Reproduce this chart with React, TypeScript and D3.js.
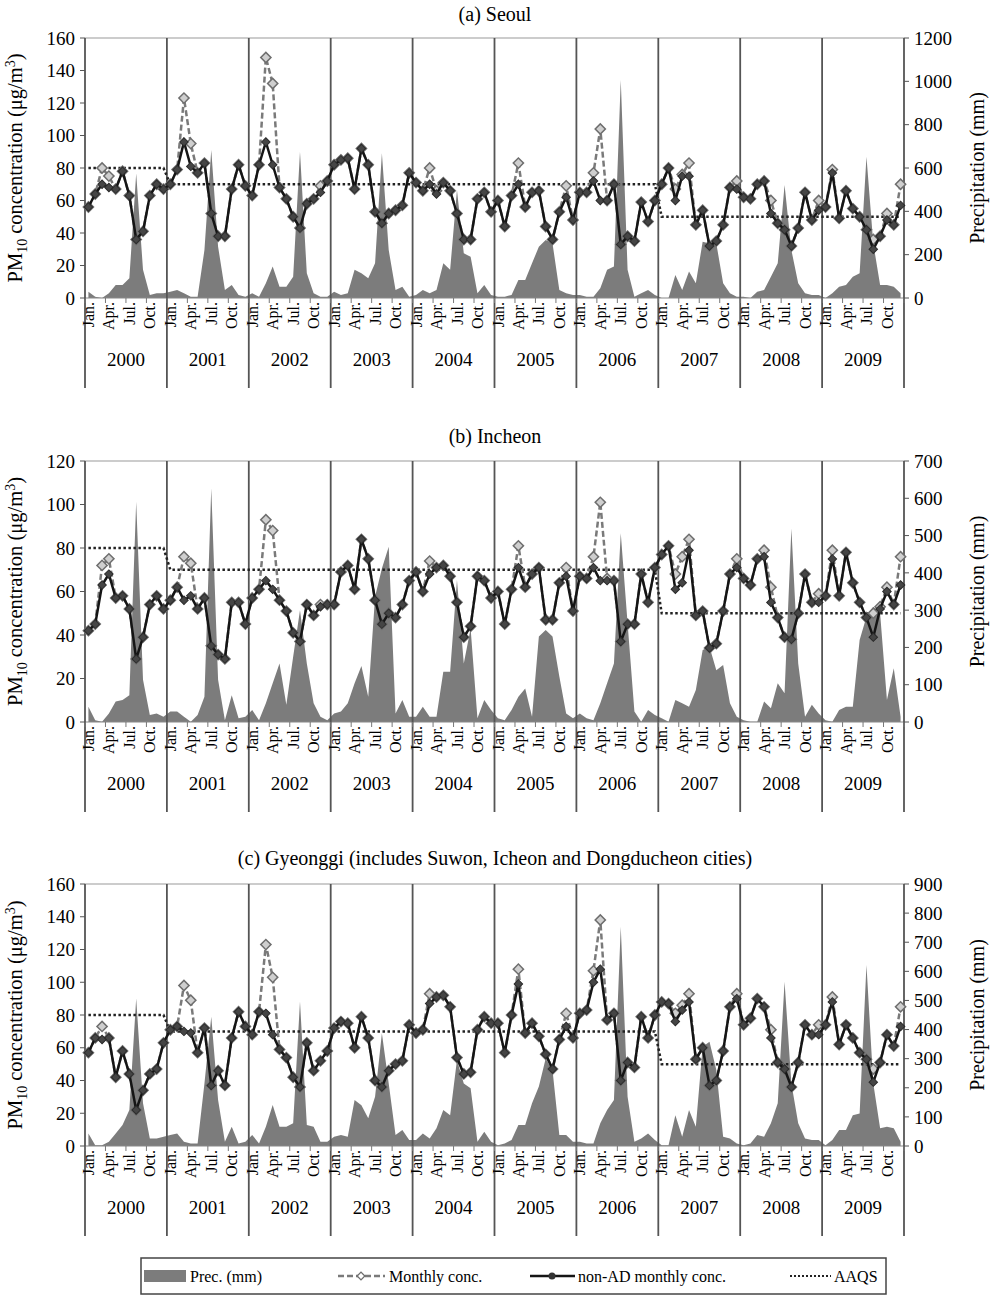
import * as d3 from "d3";

const years = ["2000", "2001", "2002", "2003", "2004", "2005", "2006", "2007", "2008", "2009"];
const monthLabels = ["Jan.", "Apr.", "Jul.", "Oct."];
const aaqsByYear = [80, 70, 70, 70, 70, 70, 70, 50, 50, 50];

// (a) Seoul
const seoulPrec = [
  29, 6, 0, 22, 60, 60, 91, 575, 130, 14, 22, 22,
  29, 37, 22, 6, 6, 221, 683, 237, 37, 60, 14, 6,
  22, 6, 68, 145, 52, 52, 98, 675, 114, 22, 6, 6,
  29, 14, 22, 130, 114, 91, 160, 668, 221, 37, 52, 6,
  14, 37, 22, 37, 160, 130, 498, 206, 190, 22, 60, 14,
  6, 6, 14, 83, 83, 160, 237, 268, 252, 37, 22, 14,
  14, 6, 6, 45, 130, 145, 1006, 130, 6, 22, 37, 14,
  0, 0, 106, 37, 122, 68, 260, 252, 252, 68, 22, 6,
  6, 0, 29, 37, 98, 160, 521, 221, 68, 22, 14, 14,
  0, 22, 52, 60, 98, 114, 652, 252, 60, 60, 52, 22,
];
const seoulNonAD = [
  56, 64, 70, 68, 67, 78, 63, 36, 41, 63, 70, 67,
  70, 79, 96, 81, 77, 83, 52, 38, 38, 67, 82, 69,
  63, 82, 96, 82, 68, 61, 50, 43, 58, 61, 65, 72,
  82, 85, 86, 67, 92, 82, 53, 46, 52, 54, 57, 77,
  71, 66, 70, 64, 71, 66, 52, 36, 36, 61, 65, 53,
  60, 44, 63, 70, 56, 65, 66, 44, 36, 53, 62, 48,
  65, 65, 72, 60, 60, 70, 33, 38, 35, 59, 47, 60,
  70, 80, 60, 75, 75, 45, 54, 32, 35, 45, 68, 67,
  62, 61, 70, 72, 52, 46, 42, 32, 43, 65, 48, 54,
  56, 77, 49, 66, 55, 50, 42, 30, 38, 48, 45, 57,
];
const seoulMonthly = [
  56, 64, 80, 75, 67, 78, 63, 36, 41, 63, 70, 67,
  70, 79, 123, 95, 77, 83, 52, 38, 38, 67, 82, 69,
  63, 82, 148, 132, 68, 61, 50, 43, 58, 61, 69, 72,
  82, 85, 86, 67, 92, 82, 53, 46, 52, 54, 57, 77,
  71, 66, 80, 66, 71, 66, 52, 36, 36, 61, 65, 53,
  60, 44, 63, 83, 56, 65, 66, 44, 36, 53, 69, 48,
  65, 65, 77, 104, 60, 70, 33, 38, 35, 59, 47, 60,
  70, 80, 67, 76, 83, 45, 54, 32, 35, 45, 68, 72,
  62, 61, 70, 72, 60, 46, 42, 32, 43, 65, 48, 60,
  56, 79, 49, 66, 55, 50, 42, 36, 38, 52, 45, 70,
];

// (b) Incheon
const incheonPrec = [
  41, 5, 1, 23, 55, 59, 72, 591, 113, 19, 23, 14,
  28, 28, 14, 1, 19, 68, 627, 113, 5, 72, 10, 14,
  32, 5, 50, 104, 157, 46, 175, 300, 157, 50, 14, 5,
  23, 28, 50, 104, 150, 68, 336, 412, 470, 23, 59, 14,
  14, 41, 14, 14, 135, 135, 381, 157, 251, 10, 59, 32,
  10, 5, 32, 68, 90, 14, 229, 247, 229, 122, 23, 10,
  23, 10, 5, 50, 104, 157, 506, 265, 28, 1, 32, 19,
  10, 1, 59, 50, 41, 86, 193, 202, 139, 153, 50, 14,
  5, 1, 1, 55, 37, 104, 77, 519, 157, 14, 46, 23,
  5, 1, 32, 41, 41, 220, 282, 309, 291, 59, 144, 14,
];
const incheonNonAD = [
  42, 45, 63, 68, 57, 58, 52, 29, 39, 54, 58, 52,
  56, 62, 56, 58, 52, 57, 35, 31, 29, 55, 55, 45,
  57, 61, 65, 61, 56, 51, 41, 37, 54, 49, 53, 54,
  54, 69, 72, 61, 84, 75, 56, 45, 50, 48, 54, 65,
  69, 60, 68, 71, 72, 67, 55, 39, 44, 67, 65, 57,
  60, 45, 61, 71, 62, 68, 71, 47, 47, 64, 67, 51,
  67, 66, 71, 65, 65, 65, 37, 45, 45, 68, 55, 71,
  77, 81, 61, 64, 79, 49, 51, 34, 36, 51, 68, 71,
  66, 63, 75, 76, 55, 48, 39, 38, 50, 68, 55, 55,
  58, 75, 58, 78, 64, 55, 48, 39, 52, 60, 54, 63,
];
const incheonMonthly = [
  42, 45, 72, 75, 57, 58, 52, 29, 39, 54, 58, 52,
  56, 62, 76, 73, 52, 57, 35, 31, 29, 55, 55, 45,
  57, 61, 93, 88, 56, 51, 41, 37, 54, 49, 54, 54,
  54, 69, 72, 61, 84, 75, 56, 45, 50, 48, 54, 65,
  69, 60, 74, 71, 72, 67, 55, 39, 44, 67, 65, 57,
  60, 45, 61, 81, 62, 68, 71, 47, 47, 64, 71, 51,
  67, 66, 76, 101, 66, 65, 37, 45, 45, 68, 55, 71,
  77, 81, 68, 76, 84, 49, 51, 34, 36, 51, 68, 75,
  66, 63, 75, 79, 62, 48, 39, 38, 50, 68, 55, 59,
  58, 79, 58, 78, 64, 55, 48, 50, 53, 62, 54, 76,
];

// (c) Gyeonggi
const gyeonggiPrec = [
  43, 3, 3, 15, 43, 72, 124, 507, 147, 26, 26, 32,
  38, 43, 15, 9, 9, 215, 444, 158, 15, 66, 9, 15,
  38, 9, 66, 141, 66, 66, 78, 496, 72, 66, 15, 15,
  32, 38, 32, 158, 140, 95, 169, 387, 215, 38, 55, 21,
  21, 43, 26, 61, 124, 106, 295, 215, 198, 15, 49, 15,
  3, 9, 21, 72, 72, 147, 204, 301, 261, 38, 38, 15,
  15, 9, 9, 78, 124, 158, 753, 169, 15, 26, 43, 21,
  3, 3, 106, 32, 124, 66, 341, 358, 261, 32, 26, 9,
  3, 9, 38, 32, 78, 147, 564, 215, 78, 26, 21, 21,
  3, 21, 55, 55, 106, 112, 622, 215, 61, 66, 61, 15,
];
const gyeonggiNonAD = [
  57, 66, 65, 66, 42, 58, 44, 22, 34, 44, 47, 63,
  71, 73, 70, 69, 57, 72, 37, 46, 37, 66, 82, 73,
  68, 82, 81, 68, 59, 54, 42, 36, 63, 46, 52, 58,
  72, 76, 75, 60, 79, 66, 40, 36, 46, 50, 52, 74,
  69, 71, 87, 91, 92, 85, 54, 44, 45, 71, 79, 75,
  75, 57, 80, 99, 69, 75, 67, 56, 47, 65, 73, 66,
  81, 83, 100, 108, 77, 81, 40, 51, 48, 79, 66, 80,
  88, 87, 76, 83, 88, 53, 60, 37, 40, 58, 85, 90,
  74, 78, 90, 85, 66, 51, 47, 36, 51, 74, 68, 68,
  74, 88, 62, 74, 66, 57, 53, 39, 51, 68, 61, 73,
];
const gyeonggiMonthly = [
  57, 66, 73, 66, 42, 58, 44, 22, 34, 44, 47, 63,
  71, 73, 98, 89, 57, 72, 37, 46, 37, 66, 82, 73,
  68, 82, 123, 103, 59, 54, 42, 36, 63, 46, 52, 58,
  72, 76, 75, 60, 79, 66, 40, 36, 46, 50, 52, 74,
  69, 71, 93, 91, 92, 85, 54, 44, 45, 71, 79, 75,
  75, 57, 80, 108, 69, 75, 67, 56, 47, 65, 81, 66,
  81, 83, 107, 138, 77, 81, 40, 51, 48, 79, 66, 80,
  88, 87, 81, 86, 93, 53, 60, 37, 40, 58, 85, 93,
  74, 78, 90, 85, 71, 51, 47, 36, 51, 74, 68, 74,
  74, 91, 62, 74, 66, 57, 53, 47, 51, 68, 61, 85,
];

const panels = [
  { title: "(a) Seoul", titleY: 21, top: 38, bottom: 298, yMax: 160, rMax: 1200, rStep: 200,
    prec: seoulPrec, monthly: seoulMonthly, nonAD: seoulNonAD },
  { title: "(b) Incheon", titleY: 443, top: 461, bottom: 722, yMax: 120, rMax: 700, rStep: 100,
    prec: incheonPrec, monthly: incheonMonthly, nonAD: incheonNonAD },
  { title: "(c) Gyeonggi (includes Suwon, Icheon and Dongducheon cities)", titleY: 865, top: 884, bottom: 1146,
    yMax: 160, rMax: 900, rStep: 100, prec: gyeonggiPrec, monthly: gyeonggiMonthly, nonAD: gyeonggiNonAD },
];

const L = 85;
const R = 904;
const FONT = "'Liberation Serif', 'DejaVu Serif', 'Times New Roman', serif";
const PREC_FILL = "#7c7c7c";

const diamond = d3.symbol(d3.symbolSquare, 52)();
const smallDiamond = d3.symbol(d3.symbolSquare, 36)();

function Panel({ p }) {
  const n = p.nonAD.length;
  const x = d3.scaleBand().domain(d3.range(n)).range([L, R]);
  const bw = x.bandwidth();
  const cx = (i) => x(i) + bw / 2;
  const y = d3.scaleLinear().domain([0, p.yMax]).range([p.bottom, p.top]);
  const yr = d3.scaleLinear().domain([0, p.rMax]).range([p.bottom, p.top]);

  const area = d3.area().x((d, i) => cx(i)).y0(p.bottom).y1((d) => yr(d));
  const line = d3.line().x((d, i) => cx(i)).y((d) => y(d));
  const aaqs = d3.range(n).map((i) => aaqsByYear[Math.floor(i / 12)]);

  const leftTicks = d3.range(0, p.yMax + 1, 20);
  const rightTicks = d3.range(0, p.rMax + 1, p.rStep);
  const lineEnd = p.bottom + 90;
  const midY = (p.top + p.bottom) / 2;

  return (
    <g>
      <text x={495} y={p.titleY} textAnchor="middle" fontSize={20}>{p.title}</text>

      <path d={area(p.prec)} fill={PREC_FILL} />

      <line x1={L} x2={R} y1={p.top} y2={p.top} stroke="#bbb" strokeWidth={1.5} />
      <line x1={L} x2={R} y1={p.bottom} y2={p.bottom} stroke="#888" strokeWidth={1.2} />

      {d3.range(years.length + 1).map((k) => (
        <line key={"d" + k} x1={L + k * 12 * bw} x2={L + k * 12 * bw} y1={p.top} y2={lineEnd}
          stroke="#555" strokeWidth={1.8} />
      ))}

      {d3.range(0, n + 1, 3).map((k) => (
        <line key={"mt" + k} x1={L + k * bw} x2={L + k * bw} y1={p.bottom} y2={p.bottom + 5}
          stroke="#777" strokeWidth={1} />
      ))}

      {leftTicks.map((t) => (
        <g key={"l" + t}>
          <line x1={L - 5} x2={L} y1={y(t)} y2={y(t)} stroke="#555" />
          <text x={L - 10} y={y(t)} dy="0.35em" textAnchor="end" fontSize={19}>{t}</text>
        </g>
      ))}
      {rightTicks.map((t) => (
        <g key={"r" + t}>
          <line x1={R} x2={R + 5} y1={yr(t)} y2={yr(t)} stroke="#555" />
          <text x={R + 10} y={yr(t)} dy="0.35em" textAnchor="start" fontSize={19}>{t}</text>
        </g>
      ))}

      <text transform={`translate(22,${midY}) rotate(-90)`} textAnchor="middle" fontSize={20.5}>
        PM<tspan fontSize={14} dy={5}>10</tspan>
        <tspan dy={-5}> concentration (μg/m</tspan>
        <tspan fontSize={14} dy={-7}>3</tspan>
        <tspan dy={7}>)</tspan>
      </text>
      <text transform={`translate(984,${midY}) rotate(-90)`} textAnchor="middle" fontSize={20}>
        Precipitation (mm)
      </text>

      {d3.range(n).filter((i) => i % 3 === 0).map((i) => (
        <text key={"ml" + i} transform={`translate(${cx(i)},${p.bottom + 4}) rotate(-90)`}
          textAnchor="end" dy="0.35em" fontSize={16}>
          {monthLabels[(i % 12) / 3]}
        </text>
      ))}
      {years.map((yy, k) => (
        <text key={yy} x={L + (k + 0.5) * 12 * bw} y={p.bottom + 68} textAnchor="middle" fontSize={19}>{yy}</text>
      ))}

      <path d={line(aaqs)} fill="none" stroke="#222" strokeWidth={2.5} strokeDasharray="2.5,2.5" />

      <path d={line(p.monthly)} fill="none" stroke="#7a7a7a" strokeWidth={2.5} strokeDasharray="6,3" />
      {p.monthly.map((v, i) => (
        <path key={"m" + i} d={diamond} transform={`translate(${cx(i)},${y(v)}) rotate(45)`}
          fill="#cfcfcf" stroke="#6e6e6e" strokeWidth={1.5} />
      ))}

      <path d={line(p.nonAD)} fill="none" stroke="#151515" strokeWidth={2.5} />
      {p.nonAD.map((v, i) => (
        <path key={"n" + i} d={smallDiamond} transform={`translate(${cx(i)},${y(v)}) rotate(45)`}
          fill="#454545" stroke="#2a2a2a" strokeWidth={1} />
      ))}
    </g>
  );
}

function Legend() {
  const cy = 1276;
  return (
    <g fontSize={16}>
      <rect x={141} y={1258} width={745} height={36} fill="none" stroke="#444" strokeWidth={1.5} />
      <rect x={144} y={1270} width={42} height={12} fill={PREC_FILL} />
      <text x={190} y={cy} dy="0.35em">Prec. (mm)</text>

      <line x1={338} x2={385} y1={cy} y2={cy} stroke="#7a7a7a" strokeWidth={2.5} strokeDasharray="6,3" />
      <path d={d3.symbol(d3.symbolSquare, 30)()} transform={`translate(361,${cy}) rotate(45)`}
        fill="#fff" stroke="#6e6e6e" strokeWidth={1.3} />
      <text x={389} y={cy} dy="0.35em">Monthly conc.</text>

      <line x1={530} x2={575} y1={cy} y2={cy} stroke="#151515" strokeWidth={2.5} />
      <circle cx={552} cy={cy} r={3.5} fill="#333" />
      <text x={578} y={cy} dy="0.35em">non-AD monthly conc.</text>

      <line x1={790} x2={831} y1={cy} y2={cy} stroke="#222" strokeWidth={2} strokeDasharray="2,2" />
      <text x={834} y={cy} dy="0.35em">AAQS</text>
    </g>
  );
}

export default function App() {
  return (
    <svg width={996} height={1295} fontFamily={FONT}
      style={{ position: "absolute", left: 0, top: 0, background: "#fff" }}>
      {panels.map((p) => <Panel key={p.title} p={p} />)}
      <Legend />
    </svg>
  );
}
